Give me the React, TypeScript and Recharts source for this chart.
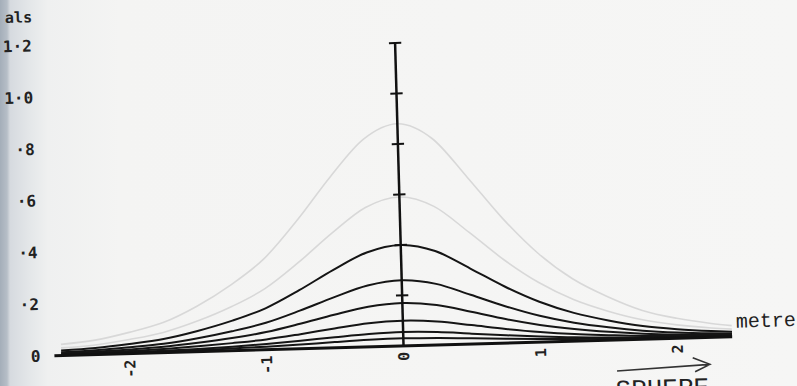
import { LineChart, Line, XAxis, YAxis, ReferenceLine } from "recharts";

// distance along the profile, metres
const distance = [-2.5, -2.25, -2, -1.75, -1.5, -1.25, -1, -0.75, -0.5, -0.25, 0, 0.25, 0.5, 0.75, 1, 1.25, 1.5, 1.75, 2, 2.25, 2.4];

// anomaly profiles, largest first (the two upper ones are printed faint)
const profileA = [0.044, 0.057, 0.084, 0.119, 0.18, 0.26, 0.361, 0.51, 0.678, 0.823, 0.88, 0.818, 0.66, 0.493, 0.352, 0.246, 0.172, 0.114, 0.079, 0.055, 0.044];
const profileB = [0.03, 0.038, 0.056, 0.08, 0.121, 0.174, 0.242, 0.342, 0.454, 0.552, 0.59, 0.549, 0.443, 0.33, 0.236, 0.165, 0.115, 0.077, 0.053, 0.037, 0.03];
const profileC = [0.02, 0.026, 0.038, 0.054, 0.082, 0.118, 0.164, 0.232, 0.308, 0.374, 0.4, 0.372, 0.3, 0.224, 0.16, 0.112, 0.078, 0.052, 0.036, 0.025, 0.02];
const profileD = [0.013, 0.017, 0.025, 0.035, 0.053, 0.077, 0.107, 0.151, 0.2, 0.243, 0.26, 0.242, 0.195, 0.146, 0.104, 0.073, 0.051, 0.034, 0.023, 0.016, 0.013];
const profileE = [0.009, 0.011, 0.016, 0.023, 0.035, 0.05, 0.07, 0.099, 0.131, 0.159, 0.17, 0.158, 0.128, 0.095, 0.068, 0.048, 0.033, 0.022, 0.015, 0.011, 0.009];
const profileF = [0.005, 0.007, 0.01, 0.014, 0.021, 0.03, 0.041, 0.058, 0.077, 0.094, 0.1, 0.093, 0.075, 0.056, 0.04, 0.028, 0.02, 0.013, 0.009, 0.006, 0.005];
const profileG = [0.003, 0.004, 0.005, 0.007, 0.011, 0.016, 0.023, 0.032, 0.042, 0.051, 0.055, 0.051, 0.041, 0.031, 0.022, 0.015, 0.011, 0.007, 0.005, 0.003, 0.003];
const profileH = [0.002, 0.002, 0.003, 0.004, 0.006, 0.009, 0.012, 0.017, 0.023, 0.028, 0.03, 0.028, 0.023, 0.017, 0.012, 0.008, 0.006, 0.004, 0.003, 0.002, 0.002];

const xTicks = [-2, -1, 0, 1, 2];
const yTicks = [0, 0.2, 0.4, 0.6, 0.8, 1.0, 1.2];
const yTickLabels = ["0", "·2", "·4", "·6", "·8", "1·0", "1·2"];
const axisTicks = [0.2, 0.4, 0.6, 0.8, 1.0, 1.2];

const faintKeys = ["a", "b"];
const darkKeys = ["c", "d", "e", "f", "g", "h"];

const data = distance.map((x, i) => ({
  x,
  a: profileA[i],
  b: profileB[i],
  c: profileC[i],
  d: profileD[i],
  e: profileE[i],
  f: profileF[i],
  g: profileG[i],
  h: profileH[i],
}));

const MONO = "'DejaVu Sans Mono', 'Liberation Mono', monospace";
const COURIER = "'Liberation Mono', 'DejaVu Sans Mono', monospace";

// x labels are printed sideways, hanging below the baseline
const XTick = ({ x, y, payload }: any) => (
  <g transform={`translate(${x},${y})`}>
    <text
      transform="rotate(-90)"
      textAnchor="end"
      dy="0.35em"
      fontFamily={MONO}
      fontWeight="bold"
      fontSize={15}
      fill="#222"
    >
      {payload.value}
    </text>
  </g>
);

// the printed y scale is spaced a touch wider than the plotted one
const YTick = ({ x, y, payload }: any) => {
  const label = yTickLabels[yTicks.indexOf(payload.value)] ?? "";
  const shifted = y + (y - 346) * 0.024;
  return (
    <text
      x={x}
      y={shifted}
      dy="0.35em"
      textAnchor="end"
      fontFamily={MONO}
      fontWeight="bold"
      fontSize={16}
      fill="#222"
    >
      {label}
    </text>
  );
};

export default function App() {
  return (
    <div
      style={{
        position: "fixed",
        left: 0,
        top: 0,
        width: 797,
        height: 386,
        overflow: "hidden",
        background:
          "linear-gradient(to right, #a4aeb9 0px, #b6bec7 7px, #d6dadf 10px, #e4e7e9 30px, #eff0f0 48px, #f4f4f3 120px, #f6f6f5 100%)",
      }}
    >
      <div
        style={{
          position: "absolute",
          left: 0,
          top: 0,
          width: 797,
          height: 386,
          transform: "rotate(-1.6deg)",
        }}
      >
        <LineChart width={797} height={386} data={data} margin={{ top: 43, right: 69, bottom: 0, left: 0 }}>
          <XAxis
            dataKey="x"
            type="number"
            domain={[-2.55, 2.4]}
            ticks={xTicks}
            allowDataOverflow
            height={40}
            tickLine={false}
            tickMargin={0}
            axisLine={{ stroke: "#111", strokeWidth: 3 }}
            tick={<XTick />}
          />
          <YAxis
            type="number"
            domain={[0, 1.2]}
            ticks={yTicks}
            width={50}
            axisLine={false}
            tickLine={false}
            tickMargin={8}
            tick={<YTick />}
          />
          {faintKeys.map((k) => (
            <Line
              key={k}
              type="monotone"
              dataKey={k}
              stroke="#d8d8d8"
              strokeWidth={1.6}
              dot={false}
              isAnimationActive={false}
            />
          ))}
          {darkKeys.map((k) => (
            <Line
              key={k}
              type="monotone"
              dataKey={k}
              stroke="#151515"
              strokeWidth={2}
              dot={false}
              isAnimationActive={false}
            />
          ))}
          {/* centre axis with its scale marks */}
          <ReferenceLine x={0} stroke="#111" strokeWidth={2.5} />
          {axisTicks.map((t) => (
            <ReferenceLine
              key={t}
              segment={[
                { x: -0.045, y: t },
                { x: 0.045, y: t },
              ]}
              stroke="#111"
              strokeWidth={2}
            />
          ))}
        </LineChart>
        <svg
          width={797}
          height={386}
          style={{ position: "absolute", left: 0, top: 0, overflow: "visible", pointerEvents: "none" }}
        >
          <text x={10} y={12} fontFamily={MONO} fontWeight="bold" fontSize={15} fill="#222">
            als
          </text>
          <text x={732} y={337} fontFamily={COURIER} fontSize={20} fill="#222">
            metre
          </text>
          <path d="M612 377 L705 373 M688 366 L705 373 L690 380" stroke="#333" strokeWidth={1.6} fill="none" />
          <text x={610} y={404} fontFamily={COURIER} fontSize={26} fill="#222">
            SPHERE
          </text>
        </svg>
      </div>
    </div>
  );
}
